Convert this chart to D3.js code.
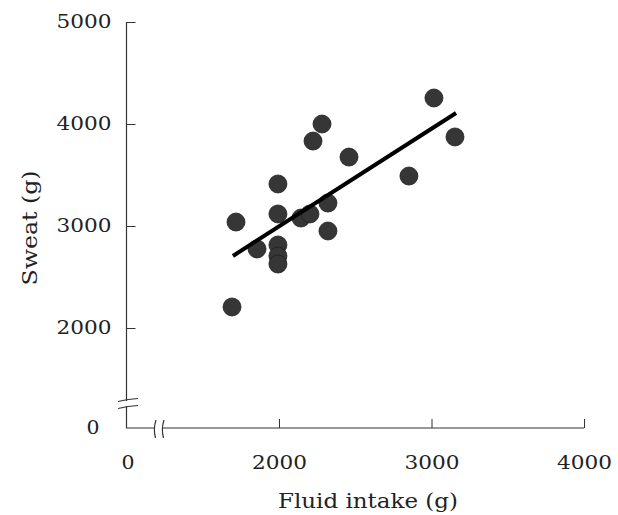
<!DOCTYPE html>
<html>
<head>
<meta charset="utf-8">
<script src="https://cdn.jsdelivr.net/npm/d3@7"></script>
<style>
  body { margin: 0; background: #fff; }
  text { font-family: "DejaVu Serif", serif; fill: #222; }
</style>
</head>
<body>
<script>
// fluid intake vs sweat
const intake = [1692, 1718, 1856, 1993, 1993, 1993, 1993, 1993, 2144, 2203, 2223, 2282, 2321, 2321, 2459, 2852, 3016, 3154];
const sweat  = [2206, 3039, 2775, 3412, 3118, 2814, 2706, 2627, 3078, 3118, 3833, 4000, 3225, 2951, 3676, 3490, 4255, 3873];

// regression line end points
const fitX = [1698, 3161];
const fitY = [2706, 4108];

const xTicks = [2000, 3000, 4000];
const yTicks = [2000, 3000, 4000, 5000];

const width = 618, height = 515;
const ox = 126.5, oy = 428;   // axis corner (shown as 0)

let svg = d3.select("body").append("svg")
    .attr("width", width)
    .attr("height", height);

let x = d3.scaleLinear().domain([2000, 4000]).range([279, 584]);
let y = d3.scaleLinear().domain([2000, 5000]).range([328, 22]);

// axes without domain lines, ticks point inward
let yAxis = d3.axisLeft(y).tickValues(yTicks).tickFormat(d3.format("d"))
    .tickSizeInner(-9).tickSizeOuter(0).tickPadding(15);
let xAxis = d3.axisBottom(x).tickValues(xTicks).tickFormat(d3.format("d"))
    .tickSizeInner(-9).tickSizeOuter(0).tickPadding(28);

let gy = svg.append("g").attr("transform", `translate(${ox},0)`).call(yAxis);
let gx = svg.append("g").attr("transform", `translate(0,${oy})`).call(xAxis);

[gx, gy].forEach(g => {
  g.select(".domain").remove();
  g.selectAll(".tick line").attr("stroke", "#333");
  g.selectAll(".tick text")
    .attr("font-family", "DejaVu Serif")
    .attr("font-size", 18)
    .attr("textLength", 55)
    .attr("lengthAdjust", "spacingAndGlyphs")
    .attr("fill", "#222");
});

// axis lines with breaks
let axisColor = "#333";
let axes = svg.append("g").attr("fill", "none").attr("stroke", axisColor).attr("stroke-width", 1.2);
axes.append("path").attr("d", `M${ox},${y(5000)}V401`);
axes.append("path").attr("d", `M${ox},406V${oy}H155`);
axes.append("path").attr("d", `M163,${oy}H${x(4000)}`);

// break marks
axes.append("path").attr("d", "M118,401.5Q128,399 138,398.5");
axes.append("path").attr("d", "M118,408.5Q128,406 138,405.5");
axes.append("path").attr("d", "M156,420Q153,429 155.5,438");
axes.append("path").attr("d", "M164,420Q161,429 163.5,438");

// zero labels at the corner
svg.append("text").attr("x", 93).attr("y", oy).attr("dy", "0.35em")
    .attr("text-anchor", "middle").attr("font-size", 18)
    .attr("textLength", 13).attr("lengthAdjust", "spacingAndGlyphs").text("0");
svg.append("text").attr("x", 128).attr("y", oy + 28).attr("dy", "0.71em")
    .attr("text-anchor", "middle").attr("font-size", 18)
    .attr("textLength", 13).attr("lengthAdjust", "spacingAndGlyphs").text("0");

// titles
svg.append("text")
    .attr("x", 368).attr("y", 508)
    .attr("text-anchor", "middle").attr("font-size", 20)
    .attr("textLength", 180).attr("lengthAdjust", "spacingAndGlyphs")
    .text("Fluid intake (g)");
svg.append("text")
    .attr("transform", "translate(37,228) rotate(-90)")
    .attr("text-anchor", "middle").attr("font-size", 20)
    .attr("textLength", 115).attr("lengthAdjust", "spacingAndGlyphs")
    .text("Sweat (g)");

// points
svg.append("g").selectAll("circle")
    .data(intake.map((v, i) => [v, sweat[i]]))
    .enter().append("circle")
    .attr("cx", d => x(d[0]))
    .attr("cy", d => y(d[1]))
    .attr("r", 9)
    .attr("fill", "#363636")
    .attr("stroke", "#1e1e1e")
    .attr("stroke-width", 0.8);

// fitted line
svg.append("line")
    .attr("x1", x(fitX[0])).attr("y1", y(fitY[0]))
    .attr("x2", x(fitX[1])).attr("y2", y(fitY[1]))
    .attr("stroke", "#000")
    .attr("stroke-width", 4);
</script>
</body>
</html>
